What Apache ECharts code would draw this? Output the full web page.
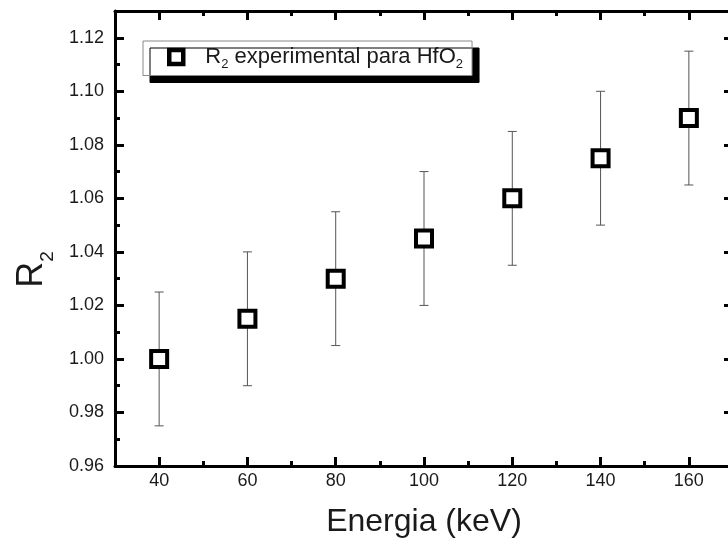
<!DOCTYPE html>
<html>
<head>
<meta charset="utf-8">
<script src="https://cdn.jsdelivr.net/npm/echarts@6/dist/echarts.min.js"></script>
<style>
html,body{margin:0;padding:0;background:#fff;}
#chart{width:728px;height:548px;}
</style>
</head>
<body>
<div id="chart"></div>
<script>
// ---- data ----
const energy   = [40, 60, 80, 100, 120, 140, 160];
const r2Values = [1.000, 1.015, 1.030, 1.045, 1.060, 1.075, 1.090];
const errLow   = [0.975, 0.990, 1.005, 1.020, 1.035, 1.050, 1.065];
const errHigh  = [1.025, 1.040, 1.055, 1.070, 1.085, 1.100, 1.115];
const xMajorTicks = [40, 60, 80, 100, 120, 140, 160];
const xMinorTicks = [50, 70, 90, 110, 130, 150, 170];
const yMajorTicks = [0.96, 0.98, 1.00, 1.02, 1.04, 1.06, 1.08, 1.10, 1.12];
const yMinorTicks = [0.97, 0.99, 1.01, 1.03, 1.05, 1.07, 1.09, 1.11];
const seriesName = 'R2 experimental para HfO2';

const FONT = 'Liberation Sans, Arial, Helvetica, sans-serif';
const X_MIN = 30, X_MAX = 170, Y_MIN = 0.96, Y_MAX = 1.13;

function xAx(pos, ticks, len, main) {
  return {
    type: 'value', position: pos, min: X_MIN, max: X_MAX,
    axisLine: { show: !!main, onZero: false, lineStyle: { color: '#000', width: 3 } },
    axisTick: { show: true, inside: true, length: len, customValues: ticks, lineStyle: { color: '#000', width: 3 } },
    axisLabel: { show: false },
    splitLine: { show: false }
  };
}
function yAx(pos, ticks, len, main) {
  return {
    type: 'value', position: pos, min: Y_MIN, max: Y_MAX,
    axisLine: { show: !!main, onZero: false, lineStyle: { color: '#000', width: 3 } },
    axisTick: { show: true, inside: true, length: len, customValues: ticks, lineStyle: { color: '#000', width: 3 } },
    axisLabel: { show: false },
    splitLine: { show: false }
  };
}

const xMain = xAx('bottom', xMajorTicks, 9, true);
xMain.axisLabel = { show: true, customValues: xMajorTicks, margin: 6, color: '#1a1a1a', fontSize: 18, fontFamily: FONT };
xMain.name = 'Energia (keV)';
xMain.nameLocation = 'middle';
xMain.nameGap = 40;
xMain.nameTextStyle = { fontSize: 32, fontFamily: FONT, color: '#1a1a1a' };

const yMain = yAx('left', yMajorTicks, 9, true);
yMain.axisLabel = { show: true, customValues: yMajorTicks, margin: 11, color: '#1a1a1a', fontSize: 18, fontFamily: FONT,
  formatter: v => v.toFixed(2) };
yMain.name = '{r|R}{s|2}';
yMain.nameLocation = 'middle';
yMain.nameRotate = 90;
yMain.nameGap = 58;
yMain.nameTextStyle = {
  fontFamily: FONT, color: '#1a1a1a', padding: [0, 62, 0, 0],
  rich: {
    r: { fontSize: 36, fontFamily: FONT, color: '#1a1a1a' },
    s: { fontSize: 19, fontFamily: FONT, color: '#1a1a1a', padding: [30, 0, 0, 0] }
  }
};

const chart = echarts.init(document.getElementById('chart'), null, { renderer: 'canvas' });
chart.setOption({
  animation: false,
  backgroundColor: '#fff',
  grid: { left: 115, right: -5, top: 11, bottom: 82, containLabel: false, outerBoundsMode: 'none' },
  xAxis: [xMain, xAx('bottom', xMinorTicks, 5), xAx('top', xMajorTicks, 9, true), xAx('top', xMinorTicks, 5)],
  yAxis: [yMain, yAx('left', yMinorTicks, 5), yAx('right', yMajorTicks, 9, true), yAx('right', yMinorTicks, 5)],
  legend: {
    data: [{
      name: seriesName, icon: 'rect',
      itemStyle: { color: '#fff', borderColor: '#000', borderWidth: 4.5 }
    }],
    left: 143, top: 41,
    orient: 'vertical',
    itemWidth: 14, itemHeight: 14,
    padding: [5, 9, 5, 24],
    backgroundColor: '#fff',
    borderColor: '#888', borderWidth: 1,
    shadowColor: '#000', shadowBlur: 0, shadowOffsetX: 7, shadowOffsetY: 7,
    formatter: () => '{sp| }{r|R}{s|2}{r| experimental para HfO}{s|2}',
    textStyle: {
      fontFamily: FONT, color: '#1a1a1a',
      rich: {
        sp: { width: 17, fontSize: 22 },
        r: { fontSize: 22, fontFamily: FONT, color: '#1a1a1a' },
        s: { fontSize: 13, fontFamily: FONT, color: '#1a1a1a', padding: [14, 0, 0, 0] }
      }
    }
  },
  series: [
    {
      type: 'custom',
      name: 'err',
      xAxisIndex: 0, yAxisIndex: 0,
      z: 2,
      encode: { x: 0, y: [1, 2] },
      data: energy.map((e, i) => [e, errLow[i], errHigh[i]]),
      renderItem: function (params, api) {
        const x = api.value(0);
        const lo = api.coord([x, api.value(1)]);
        const hi = api.coord([x, api.value(2)]);
        const cw = 4.5;
        const st = { stroke: '#555', lineWidth: 1 };
        return {
          type: 'group',
          children: [
            { type: 'line', shape: { x1: lo[0], y1: lo[1], x2: hi[0], y2: hi[1] }, style: st },
            { type: 'line', shape: { x1: hi[0] - cw, y1: hi[1], x2: hi[0] + cw, y2: hi[1] }, style: st },
            { type: 'line', shape: { x1: lo[0] - cw, y1: lo[1], x2: lo[0] + cw, y2: lo[1] }, style: st }
          ]
        };
      }
    },
    {
      type: 'scatter',
      name: seriesName,
      xAxisIndex: 0, yAxisIndex: 0,
      z: 5,
      symbol: 'rect',
      symbolSize: 16,
      itemStyle: { color: '#fff', borderColor: '#000', borderWidth: 4, opacity: 1 },
      data: energy.map((e, i) => [e, r2Values[i]])
    }
  ]
});
</script>
</body>
</html>
